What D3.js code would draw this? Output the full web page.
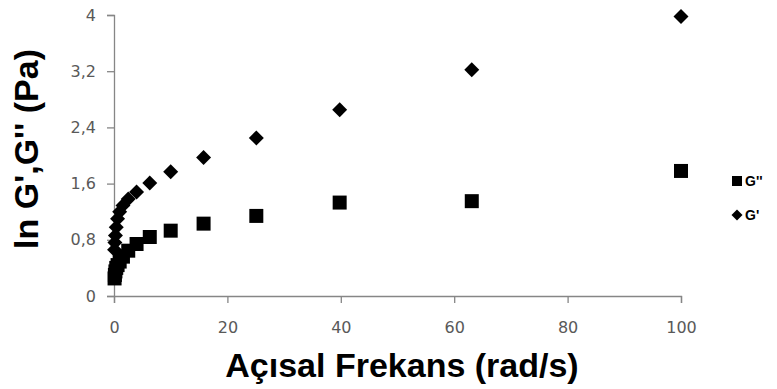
<!DOCTYPE html>
<html>
<head>
<meta charset="utf-8">
<script src="https://cdn.jsdelivr.net/npm/d3@7"></script>
<style>
  body { margin: 0; background: #fff; }
  svg { display: block; }
</style>
</head>
<body>
<div id="chart"></div>
<script>
// angular frequency (rad/s)
const freq = [0.1, 0.158, 0.251, 0.398, 0.631, 1, 1.58, 2.51, 3.98, 6.31, 10, 15.8, 25.1, 39.8, 63.1, 100];
// G'' (loss), squares
const gLoss = [0.25, 0.30, 0.35, 0.40, 0.44, 0.49, 0.56, 0.645, 0.74, 0.84, 0.93, 1.03, 1.14, 1.33, 1.35, 1.78];
// G' (storage), diamonds
const gStore = [0.66, 0.76, 0.86, 0.98, 1.10, 1.20, 1.29, 1.38, 1.48, 1.61, 1.77, 1.97, 2.25, 2.65, 3.22, 3.98];

const xTicks = [0, 20, 40, 60, 80, 100];
const yTicks = [0, 0.8, 1.6, 2.4, 3.2, 4];

const W = 777, H = 389;
const margin = {top: 15, right: 96, bottom: 93, left: 114};

const svg = d3.select("#chart")
    .append("svg")
    .attr("width", W)
    .attr("height", H);

const x = d3.scaleLinear()
    .domain([0, 100])
    .range([margin.left, W - margin.right]);

const y = d3.scaleLinear()
    .domain([0, 4])
    .range([H - margin.bottom, margin.top]);

const fmt = d => String(d).replace(".", ",");

// y axis
const yAxis = svg.append("g")
    .attr("transform", `translate(${margin.left},0)`)
    .call(d3.axisLeft(y).tickValues(yTicks).tickSize(7).tickPadding(11).tickFormat(fmt));

// x axis
const xAxis = svg.append("g")
    .attr("transform", `translate(0,${H - margin.bottom})`)
    .call(d3.axisBottom(x).tickValues(xTicks).tickSize(7).tickPadding(19).tickFormat(fmt));

[xAxis, yAxis].forEach(function (g) {
    g.select(".domain").attr("stroke", "#868686").attr("stroke-width", 1.3);
    g.selectAll(".tick line").attr("stroke", "#868686").attr("stroke-width", 1.3);
    g.selectAll(".tick text")
        .attr("fill", "#595959")
        .style("font-family", "'DejaVu Sans', sans-serif")
        .style("font-size", "16px");
});

// points
const pts = freq.map((f, i) => ({f: f, loss: gLoss[i], store: gStore[i]}));

const square = d3.symbol().type(d3.symbolSquare).size(196);
const diamond = d3.symbol().type(d3.symbolSquare).size(112);

svg.append("g")
    .selectAll("path")
    .data(pts)
    .join("path")
    .attr("d", diamond)
    .attr("fill", "#000")
    .attr("transform", d => `translate(${x(d.f)},${y(d.store)}) rotate(45)`);

svg.append("g")
    .selectAll("path")
    .data(pts)
    .join("path")
    .attr("d", square)
    .attr("fill", "#000")
    .attr("transform", d => `translate(${x(d.f)},${y(d.loss)})`);

// axis titles
svg.append("text")
    .attr("x", 402)
    .attr("y", 377)
    .attr("text-anchor", "middle")
    .style("font-family", "'Liberation Sans', Arial, sans-serif")
    .style("font-weight", "bold")
    .style("font-size", "34px")
    .text("Açısal Frekans (rad/s)");

svg.append("text")
    .attr("transform", "translate(38,149) rotate(-90)")
    .attr("text-anchor", "middle")
    .style("font-family", "'Liberation Sans', Arial, sans-serif")
    .style("font-weight", "bold")
    .style("font-size", "34px")
    .text("ln G',G'' (Pa)");

// legend
const legend = [
    {label: "G''", sym: d3.symbol().type(d3.symbolSquare).size(100), rot: 0, ly: 181},
    {label: "G'", sym: d3.symbol().type(d3.symbolSquare).size(61), rot: 45, ly: 215}
];

const lg = svg.append("g")
    .selectAll("g")
    .data(legend)
    .join("g")
    .attr("transform", d => `translate(737,${d.ly})`);

lg.append("path")
    .attr("d", d => d.sym())
    .attr("fill", "#000")
    .attr("transform", d => `rotate(${d.rot})`);

lg.append("text")
    .attr("x", 8)
    .attr("y", 5)
    .style("font-family", "'Liberation Sans', Arial, sans-serif")
    .style("font-weight", "bold")
    .style("font-size", "14px")
    .text(d => d.label);
</script>
</body>
</html>
